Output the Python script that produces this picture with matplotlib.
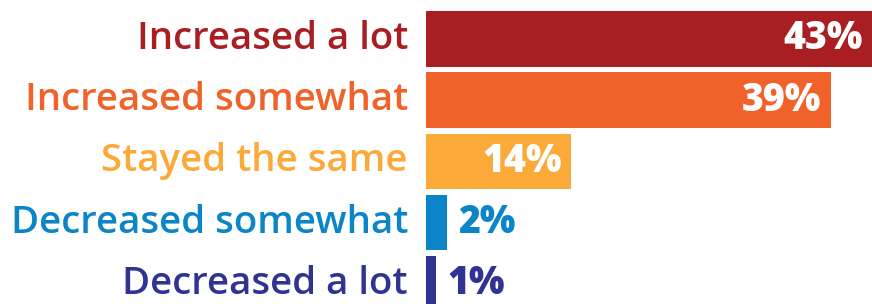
import matplotlib

matplotlib.use("Agg")
import matplotlib.pyplot as plt

categories = ["Increased a lot", "Increased somewhat", "Stayed the same",
              "Decreased somewhat", "Decreased a lot"]
values = [43, 39, 14, 2, 1]
value_labels = ["43%", "39%", "14%", "2%", "1%"]
colors = ["#A91E22", "#F0622A", "#FBAA39", "#0C85C8", "#313393"]

fig = plt.figure(figsize=(8.72, 3.04), dpi=100)
ax = fig.add_axes([426 / 872, 0, 1 - 426 / 872, 1])

positions = list(range(len(categories)))
ax.barh(positions, values, height=0.91, color=colors)
ax.set_xlim(0, 43)
ax.set_ylim(4.33, -0.637)
ax.axis("off")

for pos, val, text, name, color in zip(positions, values, value_labels, categories, colors):
    ax.annotate(name, xy=(0, pos), xytext=(-13, 0), textcoords="offset points",
                ha="right", va="center", fontsize=27.6, color=color,
                family="Open Sans", fontweight="semibold", annotation_clip=False)
    if val >= 10:
        ax.annotate(text, xy=(val, pos), xytext=(-7, 0), textcoords="offset points",
                    ha="right", va="center", fontsize=27, color="white",
                    family="Open Sans", fontweight="heavy", annotation_clip=False)
    else:
        ax.annotate(text, xy=(val, pos), xytext=(8, 0), textcoords="offset points",
                    ha="left", va="center", fontsize=27, color=color,
                    family="Open Sans", fontweight="heavy", annotation_clip=False)

fig.savefig("out.png", dpi=100)
